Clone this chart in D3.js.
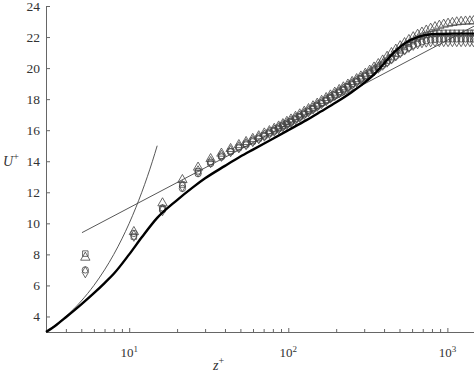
<script src="https://d3js.org/d3.v7.min.js"></script>
<body style="margin:0;background:#fff">
<div id="chart"></div>
<script>
    // wall distance z+ where the four data sets were sampled
    var zPts = [5.3, 10.7, 16.2, 21.6, 27.1, 32.5, 38, 43.4, 48.9, 54.3, 59.8, 65.2, 70.7, 76.1, 81.6, 87, 92.5, 98,
        104, 111, 118, 126, 134, 143, 152, 162, 173, 184, 196, 209, 222, 237, 252, 269, 286, 305, 325, 346, 368, 392,
        418, 445, 474, 505, 538, 573, 610, 650, 692, 737, 785, 836, 890, 948, 1010, 1075, 1145, 1220, 1300, 1385, 1460];

    var triU = [7.8, 9.45, 11.3, 12.8, 13.6, 14.15, 14.5, 14.8, 15.05, 15.25, 15.45, 15.62, 15.8, 15.95, 16.1, 16.25, 16.4, 16.55,
        16.7, 16.87, 17.03, 17.2, 17.37, 17.55, 17.72, 17.9, 18.08, 18.25, 18.43, 18.6, 18.77, 18.95, 19.12, 19.3, 19.47, 19.65, 19.85, 20.05, 20.27, 20.5,
        20.74, 20.98, 21.2, 21.42, 21.62, 21.82, 22.0, 22.16, 22.3, 22.43, 22.55, 22.65, 22.74, 22.81, 22.87, 22.92, 22.96, 22.99, 23.01, 23.02, 23.03];
    var sqU = [8.05, 9.15, 10.9, 12.5, 13.35, 13.95, 14.35, 14.65, 14.92, 15.13, 15.33, 15.5, 15.68, 15.85, 16.0, 16.15, 16.3, 16.43,
        16.58, 16.75, 16.9, 17.07, 17.24, 17.42, 17.6, 17.77, 17.95, 18.13, 18.3, 18.48, 18.65, 18.83, 19.0, 19.17, 19.35, 19.52, 19.7, 19.88, 20.07, 20.27,
        20.48, 20.7, 20.92, 21.14, 21.36, 21.56, 21.74, 21.9, 22.03, 22.13, 22.2, 22.24, 22.26, 22.27, 22.27, 22.27, 22.27, 22.27, 22.27, 22.27, 22.27];
    var circU = [7.0, 9.35, 11.0, 12.25, 13.2, 13.85, 14.27, 14.6, 14.85, 15.05, 15.25, 15.43, 15.6, 15.77, 15.93, 16.08, 16.22, 16.36,
        16.5, 16.67, 16.83, 17.0, 17.17, 17.35, 17.52, 17.7, 17.88, 18.05, 18.22, 18.4, 18.57, 18.75, 18.92, 19.1, 19.27, 19.45, 19.62, 19.8, 19.98, 20.17,
        20.37, 20.57, 20.77, 20.97, 21.15, 21.32, 21.47, 21.6, 21.7, 21.77, 21.82, 21.85, 21.87, 21.88, 21.88, 21.88, 21.88, 21.88, 21.88, 21.88, 21.88];
    var diaU = [6.85, 9.2, 10.85, 12.4, 13.35, 13.95, 14.35, 14.65, 14.9, 15.1, 15.3, 15.48, 15.65, 15.82, 15.97, 16.12, 16.27, 16.4,
        16.55, 16.72, 16.88, 17.05, 17.22, 17.4, 17.57, 17.75, 17.93, 18.1, 18.27, 18.45, 18.62, 18.8, 18.97, 19.15, 19.32, 19.5, 19.67, 19.85, 20.03, 20.22,
        20.42, 20.62, 20.82, 21.02, 21.2, 21.37, 21.5, 21.6, 21.67, 21.71, 21.73, 21.74, 21.74, 21.74, 21.74, 21.74, 21.74, 21.74, 21.74, 21.74, 21.74];

    // thick profile
    var thickZ = [3, 3.5, 4, 5, 6, 7, 8, 10, 12, 15, 20, 25, 30, 40, 50, 60, 80, 100, 130, 160, 200, 250, 300, 350, 400, 470, 550, 650, 750, 900, 1100, 1470];
    var thickU = [3.0, 3.47, 3.95, 4.78, 5.5, 6.15, 6.75, 8.0, 9.1, 10.35, 11.5, 12.3, 12.9, 13.7, 14.3, 14.75, 15.45, 16.0, 16.65, 17.2, 17.8, 18.45, 19.05, 19.65, 20.3, 21.1, 21.65, 22.0, 22.15, 22.2, 22.22, 22.22];

    // viscous sublayer U+ = z+
    var subZ = [3, 4, 5, 6, 7, 8, 9, 10, 11, 12, 13, 14, 15];
    var subU = [3, 4, 5, 6, 7, 8, 9, 10, 11, 12, 13, 14, 15];

    // log law line end points
    var logZ = [5.05, 1470];
    var logU = [9.4, 22.7];

    var yTicks = [4, 6, 8, 10, 12, 14, 16, 18, 20, 22, 24];
    var xMajor = [10, 100, 1000];
    var xMinor = [4, 5, 6, 7, 8, 9, 20, 30, 40, 50, 60, 70, 80, 90, 200, 300, 400, 500, 600, 700, 800, 900];
    var xLabels = ["1", "2", "3"];

    var serif = "Liberation Serif";
    var width = 474, height = 376;
    var x = d3.scaleLog().domain([3, 1470]).range([46, 474]);
    var y = d3.scaleLinear().domain([3, 24]).range([332, 6]);

    var svg = d3.select("#chart").append("svg")
        .attr("width", width)
        .attr("height", height)
        .style("font-family", serif);

    // x axis
    var gx = svg.append("g")
        .attr("transform", "translate(0,332)")
        .call(d3.axisBottom(x).tickValues(xMinor.concat(xMajor)).tickSize(-3).tickSizeOuter(0).tickFormat(""));
    gx.attr("font-family", null);
    gx.selectAll(".tick line").filter(function (d) { return xMajor.indexOf(d) >= 0; }).attr("y2", -4);
    gx.selectAll("text").remove();
    xMajor.forEach(function (v, i) {
        var t = svg.append("text")
            .attr("x", x(v))
            .attr("y", 357)
            .attr("text-anchor", "middle")
            .attr("fill", "#333")
            .style("font-family", serif)
            .style("font-size", "13px");
        t.append("tspan").text("10");
        t.append("tspan").attr("dy", -5).style("font-size", "9px").text(xLabels[i]);
    });

    // y axis
    var gy = svg.append("g")
        .attr("transform", "translate(46,0)")
        .call(d3.axisLeft(y).tickValues(yTicks).tickSize(-4).tickSizeOuter(0).tickPadding(6));
    gy.attr("font-family", null).attr("font-size", null);
    gy.selectAll("text").attr("fill", "#333").style("font-size", "13.5px").style("font-family", serif);

    svg.selectAll(".domain, .tick line").attr("stroke", "#666");

    // axis titles
    var ut = svg.append("text").attr("x", 3).attr("y", 166).attr("fill", "#333").style("font-family", serif).style("font-size", "14px");
    ut.append("tspan").style("font-style", "italic").text("U");
    ut.append("tspan").attr("dy", -6).style("font-size", "10px").text("+");
    var zt = svg.append("text").attr("x", 213).attr("y", 370).attr("fill", "#333").style("font-family", serif).style("font-size", "14px");
    zt.append("tspan").style("font-style", "italic").text("z");
    zt.append("tspan").attr("dy", -6).style("font-size", "10px").text("+");

    var line = d3.line()
        .x(function (d) { return x(d[0]); })
        .y(function (d) { return y(d[1]); })
        .curve(d3.curveMonotoneX);

    svg.append("path")
        .datum(subZ.map(function (z, i) { return [z, subU[i]]; }))
        .attr("d", line)
        .attr("fill", "none")
        .attr("stroke", "#444")
        .attr("stroke-width", 0.9);

    svg.append("path")
        .datum(logZ.map(function (z, i) { return [z, logU[i]]; }))
        .attr("d", d3.line().x(function (d) { return x(d[0]); }).y(function (d) { return y(d[1]); }))
        .attr("fill", "none")
        .attr("stroke", "#444")
        .attr("stroke-width", 0.9);

    // markers
    var series = [
        { vals: triU, type: d3.symbolTriangle, size: 38 },
        { vals: sqU, type: d3.symbolSquare, size: 30 },
        { vals: circU, type: d3.symbolCircle, size: 32 },
        { vals: diaU, type: d3.symbolDiamond, size: 36 }
    ];
    series.forEach(function (s) {
        svg.append("g").selectAll("path")
            .data(zPts.map(function (z, i) { return [z, s.vals[i]]; }))
            .enter().append("path")
            .attr("transform", function (d) { return "translate(" + x(d[0]) + "," + y(d[1]) + ")"; })
            .attr("d", d3.symbol().type(s.type).size(s.size))
            .attr("fill", "none")
            .attr("stroke", "#444")
            .attr("stroke-width", 0.8);
    });

    svg.append("path")
        .datum(thickZ.map(function (z, i) { return [z, thickU[i]]; }))
        .attr("d", line)
        .attr("fill", "none")
        .attr("stroke", "#000")
        .attr("stroke-width", 2.4);
</script>
</body>
